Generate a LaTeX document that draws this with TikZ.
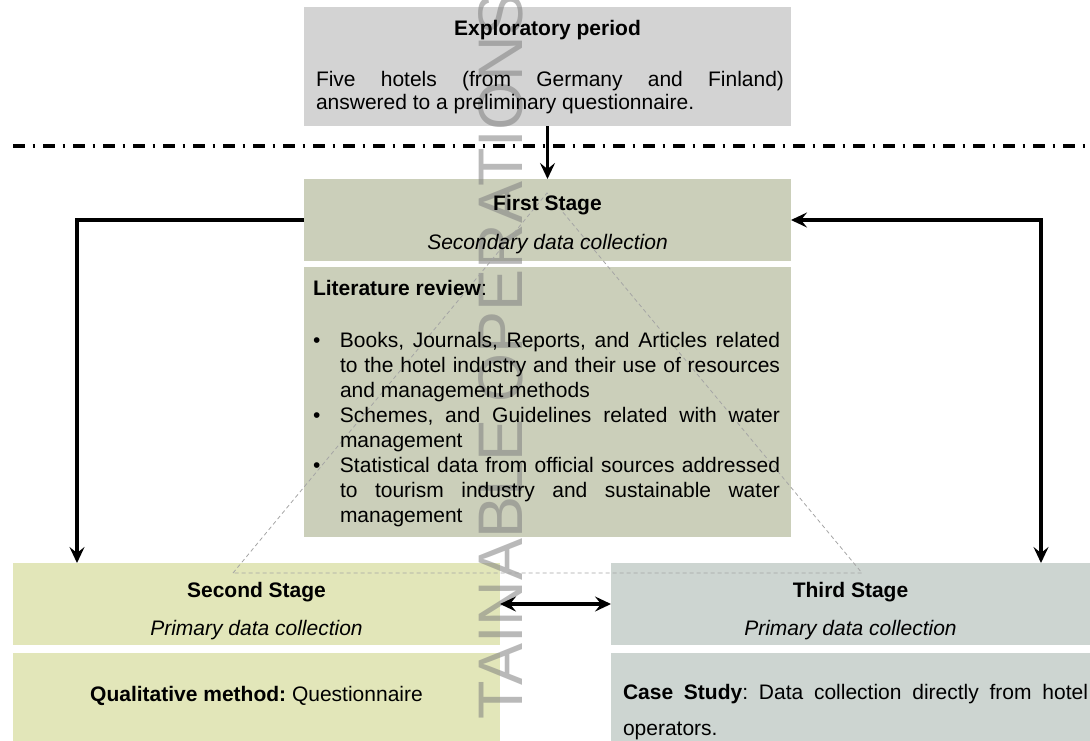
\documentclass[tikz,border=0pt]{standalone}
\usepackage{fontspec}
\setmainfont{Liberation Sans}
\usetikzlibrary{arrows.meta}
\frenchspacing

\definecolor{explfill}{RGB}{211,211,211}
\definecolor{firstfill}{RGB}{203,207,186}
\definecolor{secondfill}{RGB}{226,230,185}
\definecolor{thirdfill}{RGB}{205,213,209}
\definecolor{guidegray}{RGB}{165,165,165}

\pgfdeclarelayer{boxes}
\pgfdeclarelayer{mark}
\pgfsetlayers{boxes,mark,main}

\newcommand{\bodysize}{\fontsize{21}{25}\selectfont}
\newcommand{\jline}[1]{\makebox[\linewidth][s]{#1}}
\newcommand{\bulletitem}{\leavevmode\llap{\makebox[27pt][l]{\textbullet}}}

\tikzset{
  panel/.style={inner sep=0pt, outer sep=0pt, anchor=north west, draw=none},
  txt/.style={inner sep=0pt, outer sep=0pt, font=\bodysize},
  headline/.style={txt, anchor=base, font=\bodysize\bfseries},
  subline/.style={txt, anchor=base, font=\bodysize\itshape},
  para/.style={txt, anchor=base west},
  tip/.tip={Stealth[length=16pt,width=15pt,inset=6pt]},
  arr/.style={line width=3.2pt, -tip},
  twoway/.style={line width=3.2pt, tip-tip},
  guide/.style={draw=guidegray, line width=0.8pt, dash pattern=on 4pt off 3pt},
  separator/.style={line width=3.2pt, dash pattern=on 11.5pt off 8pt on 2.5pt off 8pt},
  wmark/.style={inner sep=0pt, rotate=90, anchor=base west,
    text=black!50, text opacity=0.55, font=\fontsize{63}{63}\selectfont}
}

\begin{document}
\begin{tikzpicture}[x=1pt,y=-1pt]
\useasboundingbox (0,0) rectangle (1090,740);

% coloured panels
\begin{pgfonlayer}{boxes}
  \node[panel, fill=explfill,   minimum width=487pt, minimum height=119pt] (expl)    at (304,7)   {};
  \node[panel, fill=firstfill,  minimum width=487pt, minimum height=82pt]  (first)   at (304,179) {};
  \node[panel, fill=firstfill,  minimum width=487pt, minimum height=270pt] (lit)     at (304,267) {};
  \node[panel, fill=secondfill, minimum width=487pt, minimum height=82pt]  (second)  at (13,563)  {};
  \node[panel, fill=secondfill, minimum width=487pt, minimum height=100pt] (secondb) at (13,653)  {};
  \node[panel, fill=thirdfill,  minimum width=490pt, minimum height=82pt]  (third)   at (611,563) {};
  \node[panel, fill=thirdfill,  minimum width=490pt, minimum height=100pt] (thirdb)  at (611,653) {};
\end{pgfonlayer}

% watermark
\begin{pgfonlayer}{mark}
  \node[wmark] (wm) at (522,720) {TAINABLE OPERATIONS};
\end{pgfonlayer}

% separator between the exploratory period and the stages
\draw[separator] (13,146) -- (1095,146);

% dashed triangle linking the three stages
\coordinate (apex) at (547,193);
\coordinate (baseL) at (233,573);
\coordinate (baseR) at (862,573);
\draw[guide] (baseL) -- (apex) -- (baseR) -- cycle;

% exploratory period
\node[headline] (explT) at (547.5,35) {Exploratory period};
\node[para] (explB) at (316,86) {\parbox[t]{468pt}{\bodysize\baselineskip=23pt
  \jline{Five hotels (from Germany and Finland)}\\
  answered to a preliminary questionnaire.}};

% first stage
\node[headline] (firstT) at (547.5,210) {First Stage};
\node[subline]  (firstS) at (547.5,249) {Secondary data collection};

\node[para] (litT) at (313,295) {\textbf{Literature review}:};
\node[para] (litB) at (340,347.5) {\parbox[t]{440pt}{\bodysize\baselineskip=25pt
  \bulletitem\jline{Books, Journals, Reports, and Articles related}\\
  \jline{to the hotel industry and their use of resources}\\
  and management methods\\
  \bulletitem\jline{Schemes, and Guidelines related with water}\\
  management\\
  \bulletitem\jline{Statistical data from official sources addressed}\\
  \jline{to tourism industry and sustainable water}\\
  management}};

% second stage
\node[headline] (secondT) at (256.5,597) {Second Stage};
\node[subline]  (secondS) at (256.5,635) {Primary data collection};
\node[txt, anchor=base] (secondM) at (256.5,701) {\textbf{Qualitative method:} Questionnaire};

% third stage
\node[headline] (thirdT) at (850.5,597) {Third Stage};
\node[subline]  (thirdS) at (850.5,635) {Primary data collection};
\node[para] (thirdM) at (623,699) {\parbox[t]{465pt}{\bodysize\baselineskip=36pt
  \jline{\textbf{Case Study}: Data collection directly from hotel}\\
  operators.}};

% connectors
\draw[arr] (expl.south) -- (first.north);
\draw[arr] (first.west) -| ([xshift=64pt]second.north west);
\draw[twoway] (first.east) -| ([xshift=430pt]third.north west);
\draw[twoway] (second.east) -- (third.west);
\end{tikzpicture}
\end{document}
